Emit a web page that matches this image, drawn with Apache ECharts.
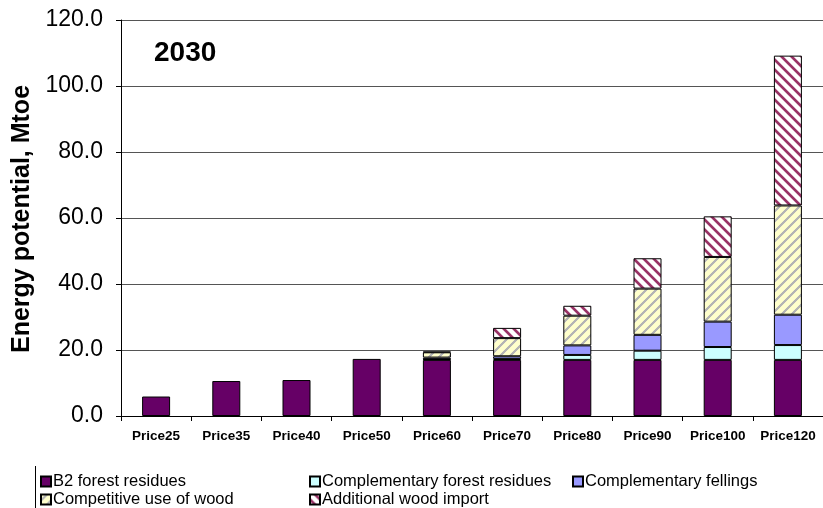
<!DOCTYPE html>
<html>
<head>
<meta charset="utf-8">
<script src="https://cdn.jsdelivr.net/npm/echarts@6/dist/echarts.min.js"></script>
<style>
  html, body { margin: 0; padding: 0; background: #ffffff; }
  #chart { width: 823px; height: 508px; }
</style>
</head>
<body>
<div id="chart"></div>
<script>
// Price scenarios on the category axis
const categories = ['Price25', 'Price35', 'Price40', 'Price50', 'Price60',
                    'Price70', 'Price80', 'Price90', 'Price100', 'Price120'];

// Energy potential in 2030 by source, Mtoe (stacked)
const b2ForestResidues        = [5.9, 10.6, 10.9, 17.3, 17.0, 17.0, 17.0, 17.0, 17.0, 17.0];
const complementaryResidues   = [0, 0, 0, 0, 0.2, 0.3, 1.5, 2.8, 3.9, 4.5];
const complementaryFellings   = [0, 0, 0, 0, 0.5, 0.8, 2.9, 4.8, 7.7, 9.2];
const competitiveUseOfWood    = [0, 0, 0, 0, 1.6, 5.5, 9.0, 14.0, 19.6, 33.1];
const additionalWoodImport    = [0, 0, 0, 0, 0.2, 3.1, 3.0, 9.2, 12.3, 45.4];

const seriesNames = ['B2 forest residues', 'Complementary forest residues',
                     'Complementary fellings', 'Competitive use of wood',
                     'Additional wood import'];

// Diagonal hatch tile; dir = 1 draws "/" stripes, dir = -1 draws "\" stripes
function hatchTile(size, bg, fg, width, dir) {
  const c = document.createElement('canvas');
  c.width = size; c.height = size;
  const ctx = c.getContext('2d');
  const img = ctx.createImageData(size, size);
  const hex = h => [1, 3, 5].map(i => parseInt(h.substr(i, 2), 16));
  const b = hex(bg), f = hex(fg);
  const centre = size / 2;
  for (let y = 0; y < size; y++) {
    for (let x = 0; x < size; x++) {
      const u = dir > 0 ? (x + y) % size : (((x - y) % size) + size) % size;
      let d = Math.abs(u - centre);
      d = Math.min(d, size - d);
      const a = Math.max(0, Math.min(1, width / 2 - d + 0.5));
      const k = (y * size + x) * 4;
      for (let ch = 0; ch < 3; ch++) img.data[k + ch] = Math.round(b[ch] * (1 - a) + f[ch] * a);
      img.data[k + 3] = 255;
    }
  }
  ctx.putImageData(img, 0, 0);
  return { image: c, repeat: 'repeat' };
}

const fills = [
  '#660066',
  '#CCFFFF',
  '#9999FF',
  hatchTile(10, '#FFFFCC', '#B4B4B4', 3.2, 1),
  hatchTile(10, '#FFFFFF', '#993366', 3.8, -1)
];

const seriesData = [b2ForestResidues, complementaryResidues, complementaryFellings,
                    competitiveUseOfWood, additionalWoodImport];

const series = seriesNames.map((name, i) => ({
  name: name,
  type: 'bar',
  stack: 'potential',
  barWidth: 28,
  data: seriesData[i].map(v => (v === 0 ? '-' : v)),
  itemStyle: { color: fills[i], borderColor: '#000000', borderWidth: 1 },
  emphasis: { disabled: true }
}));

// Legend laid out in two rows, three columns
const legendPos = [
  { left: 40,  top: 473 },
  { left: 309, top: 473 },
  { left: 572, top: 473 },
  { left: 40,  top: 491 },
  { left: 309, top: 491 }
];

const legends = seriesNames.map((name, i) => ({
  data: [name],
  left: legendPos[i].left,
  top: legendPos[i].top,
  padding: 0,
  icon: 'rect',
  itemWidth: 10,
  itemHeight: 10,
  selectedMode: false,
  textStyle: { fontFamily: 'Liberation Sans, Arial, sans-serif', fontSize: 16.5, color: '#000', padding: [0, 0, 0, -3] }
}));

const chart = echarts.init(document.getElementById('chart'), null, { renderer: 'canvas' });
chart.setOption({
  animation: false,
  backgroundColor: '#ffffff',
  grid: { left: 121, top: 20, width: 705, height: 396, containLabel: false },
  legend: legends,
  xAxis: {
    type: 'category',
    data: categories,
    boundaryGap: true,
    axisLine: { lineStyle: { color: '#000', width: 1 } },
    axisTick: { show: true, alignWithLabel: false, length: 5, lineStyle: { color: '#000' } },
    axisLabel: {
      interval: 0, margin: 13, color: '#000',
      fontFamily: 'Liberation Sans, Arial, sans-serif', fontWeight: 'bold', fontSize: 13.5
    }
  },
  yAxis: {
    type: 'value',
    min: 0, max: 120, interval: 20,
    axisLine: { show: true, lineStyle: { color: '#000', width: 1 } },
    axisTick: { show: true, length: 5, lineStyle: { color: '#000' } },
    axisLabel: {
      margin: 18, color: '#000',
      fontFamily: 'Liberation Sans, Arial, sans-serif', fontSize: 23,
      formatter: v => v.toFixed(1)
    },
    splitLine: { show: true, lineStyle: { color: '#555555', width: 1 } }
  },
  graphic: [
    {
      type: 'text', x: 22, y: 219, rotation: Math.PI / 2,
      style: {
        text: 'Energy potential, Mtoe',
        font: 'bold 25px "Liberation Sans", Arial, sans-serif',
        fill: '#000', align: 'center', verticalAlign: 'middle'
      }
    },
    {
      type: 'text', x: 154, y: 53,
      style: {
        text: '2030',
        font: 'bold 28px "Liberation Sans", Arial, sans-serif',
        fill: '#000', align: 'left', verticalAlign: 'middle'
      }
    },
    {
      type: 'line', shape: { x1: 35.5, y1: 466, x2: 35.5, y2: 508 },
      style: { stroke: '#000', lineWidth: 1 }
    }
  ],
  series: series
});
</script>
</body>
</html>
